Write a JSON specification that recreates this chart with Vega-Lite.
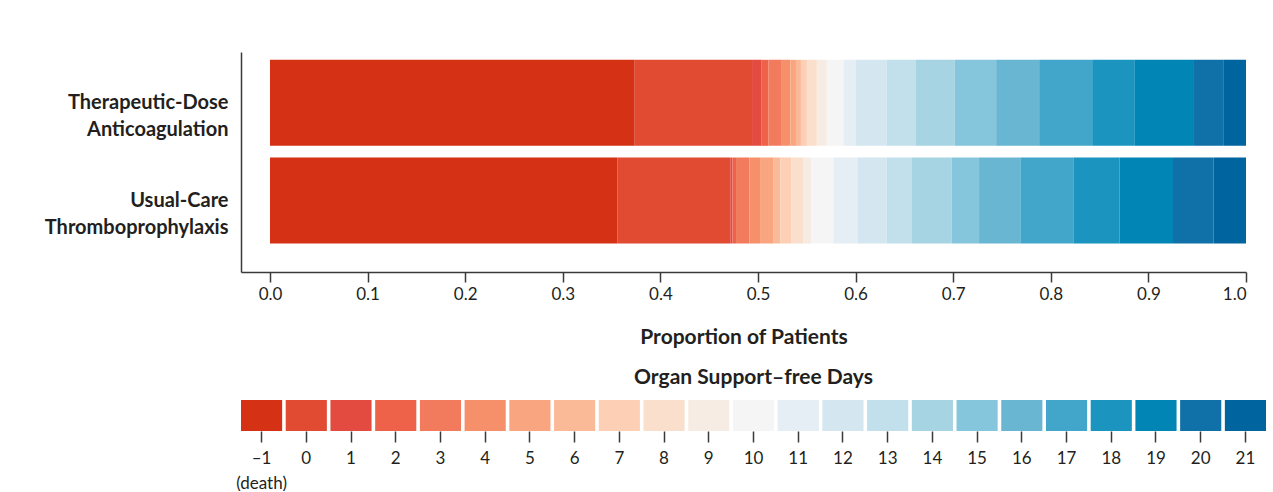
{
  "$schema": "https://vega.github.io/schema/vega-lite/v6.json",
  "padding": {"left": 44, "top": 52, "right": 5, "bottom": 0},
  "background": "white",
  "config": {
    "font": "Lato",
    "view": {"stroke": null},
    "axis": {"labelColor": "#231f20", "titleColor": "#231f20", "domainColor": "#3a3a3a", "tickColor": "#3a3a3a"}
  },
  "datasets": {
    "bars": [
      {"group": "Therapeutic-Dose Anticoagulation", "days": -1, "p": 0.3737},
      {"group": "Therapeutic-Dose Anticoagulation", "days": 0, "p": 0.1202},
      {"group": "Therapeutic-Dose Anticoagulation", "days": 1, "p": 0.0099},
      {"group": "Therapeutic-Dose Anticoagulation", "days": 2, "p": 0.0070},
      {"group": "Therapeutic-Dose Anticoagulation", "days": 3, "p": 0.0136},
      {"group": "Therapeutic-Dose Anticoagulation", "days": 4, "p": 0.0087},
      {"group": "Therapeutic-Dose Anticoagulation", "days": 5, "p": 0.0058},
      {"group": "Therapeutic-Dose Anticoagulation", "days": 6, "p": 0.0051},
      {"group": "Therapeutic-Dose Anticoagulation", "days": 7, "p": 0.0061},
      {"group": "Therapeutic-Dose Anticoagulation", "days": 8, "p": 0.0102},
      {"group": "Therapeutic-Dose Anticoagulation", "days": 9, "p": 0.0102},
      {"group": "Therapeutic-Dose Anticoagulation", "days": 10, "p": 0.0171},
      {"group": "Therapeutic-Dose Anticoagulation", "days": 11, "p": 0.0126},
      {"group": "Therapeutic-Dose Anticoagulation", "days": 12, "p": 0.0315},
      {"group": "Therapeutic-Dose Anticoagulation", "days": 13, "p": 0.0297},
      {"group": "Therapeutic-Dose Anticoagulation", "days": 14, "p": 0.0403},
      {"group": "Therapeutic-Dose Anticoagulation", "days": 15, "p": 0.0423},
      {"group": "Therapeutic-Dose Anticoagulation", "days": 16, "p": 0.0441},
      {"group": "Therapeutic-Dose Anticoagulation", "days": 17, "p": 0.0543},
      {"group": "Therapeutic-Dose Anticoagulation", "days": 18, "p": 0.0437},
      {"group": "Therapeutic-Dose Anticoagulation", "days": 19, "p": 0.0597},
      {"group": "Therapeutic-Dose Anticoagulation", "days": 20, "p": 0.0315},
      {"group": "Therapeutic-Dose Anticoagulation", "days": 21, "p": 0.0227},
      {"group": "Usual-Care Thromboprophylaxis", "days": -1, "p": 0.3562},
      {"group": "Usual-Care Thromboprophylaxis", "days": 0, "p": 0.1154},
      {"group": "Usual-Care Thromboprophylaxis", "days": 1, "p": 0.0023},
      {"group": "Usual-Care Thromboprophylaxis", "days": 2, "p": 0.0036},
      {"group": "Usual-Care Thromboprophylaxis", "days": 3, "p": 0.0138},
      {"group": "Usual-Care Thromboprophylaxis", "days": 4, "p": 0.0108},
      {"group": "Usual-Care Thromboprophylaxis", "days": 5, "p": 0.0140},
      {"group": "Usual-Care Thromboprophylaxis", "days": 6, "p": 0.0068},
      {"group": "Usual-Care Thromboprophylaxis", "days": 7, "p": 0.0110},
      {"group": "Usual-Care Thromboprophylaxis", "days": 8, "p": 0.0123},
      {"group": "Usual-Care Thromboprophylaxis", "days": 9, "p": 0.0085},
      {"group": "Usual-Care Thromboprophylaxis", "days": 10, "p": 0.0225},
      {"group": "Usual-Care Thromboprophylaxis", "days": 11, "p": 0.0246},
      {"group": "Usual-Care Thromboprophylaxis", "days": 12, "p": 0.0301},
      {"group": "Usual-Care Thromboprophylaxis", "days": 13, "p": 0.0259},
      {"group": "Usual-Care Thromboprophylaxis", "days": 14, "p": 0.0407},
      {"group": "Usual-Care Thromboprophylaxis", "days": 15, "p": 0.0280},
      {"group": "Usual-Care Thromboprophylaxis", "days": 16, "p": 0.0423},
      {"group": "Usual-Care Thromboprophylaxis", "days": 17, "p": 0.0543},
      {"group": "Usual-Care Thromboprophylaxis", "days": 18, "p": 0.0473},
      {"group": "Usual-Care Thromboprophylaxis", "days": 19, "p": 0.0548},
      {"group": "Usual-Care Thromboprophylaxis", "days": 20, "p": 0.0417},
      {"group": "Usual-Care Thromboprophylaxis", "days": 21, "p": 0.0331}
    ],
    "key": [
      {"days": -1}, {"days": 0}, {"days": 1}, {"days": 2}, {"days": 3}, {"days": 4},
      {"days": 5}, {"days": 6}, {"days": 7}, {"days": 8}, {"days": 9}, {"days": 10},
      {"days": 11}, {"days": 12}, {"days": 13}, {"days": 14}, {"days": 15}, {"days": 16},
      {"days": 17}, {"days": 18}, {"days": 19}, {"days": 20}, {"days": 21}
    ]
  },
  "vconcat": [
    {
      "width": 1005,
      "height": 220,
      "data": {"name": "bars"},
      "mark": {"type": "bar", "stroke": null},
      "encoding": {
        "y": {
          "field": "group",
          "type": "nominal",
          "sort": ["Therapeutic-Dose Anticoagulation", "Usual-Care Thromboprophylaxis"],
          "scale": {"paddingInner": 0.12, "paddingOuter": 0.186, "align": 0.216},
          "axis": {
            "title": null,
            "ticks": false,
            "domainWidth": 1.5,
            "labelPadding": 13,
            "labelFontSize": 20,
            "labelFontWeight": "bold",
            "labelLineHeight": 27,
            "labelLimit": 400,
            "labelExpr": "split(datum.label, ' ')"
          }
        },
        "x": {
          "field": "p",
          "type": "quantitative",
          "stack": "zero",
          "scale": {"domain": [-0.0297, 1], "nice": false, "zero": false},
          "axis": {
            "title": "Proportion of Patients",
            "values": [0, 0.1, 0.2, 0.3, 0.4, 0.5, 0.6, 0.7, 0.8, 0.9, 1.0],
            "format": ".1f",
            "grid": false,
            "domainWidth": 1.5,
            "tickSize": 10,
            "tickWidth": 1.5,
            "labelPadding": 4,
            "labelFontSize": 17,
            "titleFontSize": 21,
            "titleFontWeight": "bold",
            "titlePadding": 24
          }
        },
        "color": {
          "field": "days",
          "type": "ordinal",
          "legend": null,
          "scale": {
            "domain": [-1, 0, 1, 2, 3, 4, 5, 6, 7, 8, 9, 10, 11, 12, 13, 14, 15, 16, 17, 18, 19, 20, 21],
            "range": ["#d43115", "#e04b32", "#e34a40", "#ee6249", "#f27b5d", "#f5906b", "#f9a680", "#fbba97", "#fdcfb4", "#fbdfcd", "#f7ece4", "#f5f5f5", "#e5eef4", "#d4e6f0", "#c2e0ec", "#a6d4e2", "#86c6dd", "#68b6d2", "#41a6ca", "#1b94c0", "#0085b5", "#0f71a8", "#00659f"]
          }
        },
        "order": {"field": "days", "type": "quantitative", "sort": "ascending"}
      }
    },
    {
      "width": 1025,
      "height": 31,
      "data": {"name": "key"},
      "title": {"text": "Organ Support–free Days", "fontSize": 21, "fontWeight": "bold", "color": "#231f20", "anchor": "middle", "offset": 12},
      "mark": {"type": "rect"},
      "encoding": {
        "x": {
          "field": "days",
          "type": "ordinal",
          "sort": "ascending",
          "scale": {"paddingInner": 0.08, "paddingOuter": 0},
          "axis": {
            "title": null,
            "domain": false,
            "tickSize": 11,
            "tickWidth": 1.5,
            "labelPadding": 8,
            "labelFontSize": 17,
            "labelAngle": 0,
            "labelLineHeight": 25,
            "labelExpr": "datum.value == -1 ? ['–1', '(death)'] : datum.label"
          }
        },
        "color": {
          "field": "days",
          "type": "ordinal",
          "legend": null,
          "scale": {
            "domain": [-1, 0, 1, 2, 3, 4, 5, 6, 7, 8, 9, 10, 11, 12, 13, 14, 15, 16, 17, 18, 19, 20, 21],
            "range": ["#d43115", "#e04b32", "#e34a40", "#ee6249", "#f27b5d", "#f5906b", "#f9a680", "#fbba97", "#fdcfb4", "#fbdfcd", "#f7ece4", "#f5f5f5", "#e5eef4", "#d4e6f0", "#c2e0ec", "#a6d4e2", "#86c6dd", "#68b6d2", "#41a6ca", "#1b94c0", "#0085b5", "#0f71a8", "#00659f"]
          }
        }
      }
    }
  ],
  "spacing": 20
}
